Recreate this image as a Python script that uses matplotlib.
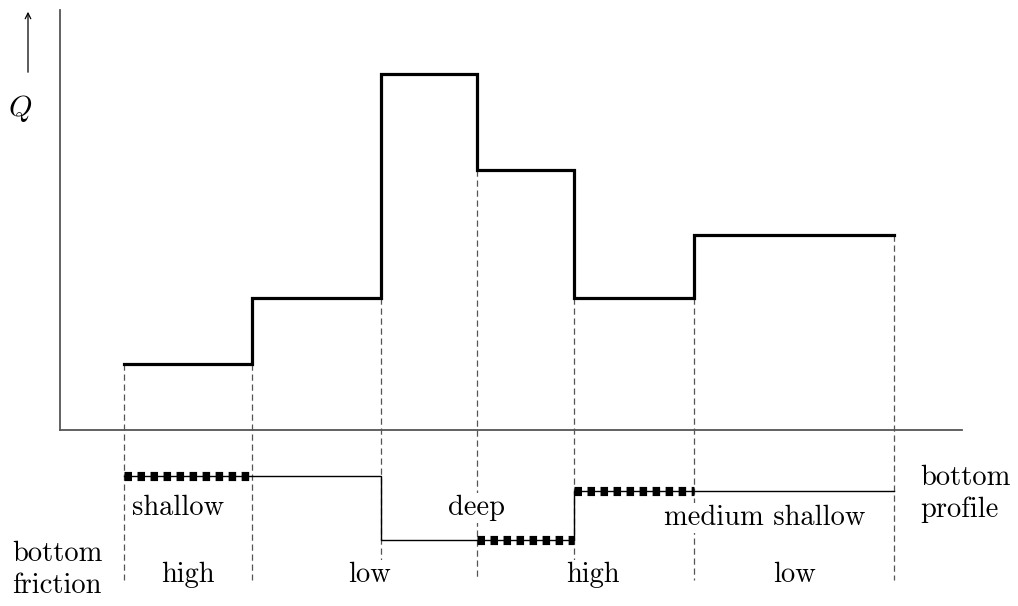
import matplotlib.pyplot as plt
import numpy as np

plt.rcParams['font.family'] = 'serif'
plt.rcParams['font.serif'] = ['cmr10', 'DejaVu Serif']
plt.rcParams['mathtext.fontset'] = 'cm'

# section boundaries along the channel and discharge Q per section
edges = [124, 252, 381, 477, 574, 694, 894]
q_vals = [66, 132, 356, 260, 132, 195]

# bottom profile (depth below axis) per profile segment
prof_x = [124, 381, 574, 894]
prof_y = [-46, -110, -61]
# stretches with high bottom friction (hatched)
rough = [(124, 252), (477, 574), (574, 694)]

profile_labels = ['shallow', 'deep', 'medium shallow']
profile_pos = [(132, -78), (477, -78), (765, -88)]
friction_labels = ['high', 'low', 'high', 'low']
friction_pos = [188, 370, 593, 795]

fig = plt.figure(figsize=(10.18, 6.06), dpi=100)
ax = fig.add_axes([0, 0, 1, 1])
ax.set_xlim(0, 1018)
ax.set_ylim(-176, 430)
ax.axis('off')

fs = 20.5
gray = '#555555'

# axes
ax.plot([60, 60], [0, 420], color=gray, lw=1.3)
ax.plot([60, 962], [0, 0], color=gray, lw=1.3)
ax.annotate('', xy=(28, 421), xytext=(28, 355),
            arrowprops=dict(arrowstyle='->', lw=0.9, color='black'))
ax.text(20, 322, r'$Q$', fontsize=fs + 1, ha='center', va='center')

# dashed section separators
tops = [q_vals[0]] + [min(q_vals[i], q_vals[i + 1]) for i in range(len(q_vals) - 1)] + [q_vals[-1]]
for x, t in zip(edges, tops):
    ax.plot([x, x], [t, -150], color=gray, lw=0.9, ls=(0, (5, 3)), zorder=1)

# stepped Q line
xs, ys = [], []
for i, q in enumerate(q_vals):
    xs += [edges[i], edges[i + 1]]
    ys += [q, q]
ax.plot(xs, ys, color='black', lw=2.3, solid_joinstyle='miter', zorder=3)

# bottom profile
px, py = [], []
for i, d in enumerate(prof_y):
    px += [prof_x[i], prof_x[i + 1]]
    py += [d, d]
ax.plot(px, py, color='black', lw=1.0, zorder=3)

for a, b in rough:
    d = np.interp((a + b) / 2, [124, 381, 381.01, 574, 574.01, 894],
                  [-46, -46, -110, -110, -61, -61])
    ax.plot([a, b], [d, d], color='black', lw=6.6, ls=(0, (0.82, 0.6)),
            dash_capstyle='butt', zorder=4)

bb = dict(facecolor='white', edgecolor='none', pad=1)
for lab, (x, y) in zip(profile_labels, profile_pos):
    ha = 'left' if lab == 'shallow' else 'center'
    ax.text(x, y, lab, fontsize=fs, ha=ha, va='center', bbox=bb, zorder=5)
for lab, x in zip(friction_labels, friction_pos):
    ax.text(x, -145, lab, fontsize=fs, ha='center', va='center', bbox=bb, zorder=5)

ax.text(920, -64, 'bottom\nprofile', fontsize=fs, ha='left', va='center', linespacing=1.25)
ax.text(12, -140, 'bottom\nfriction', fontsize=fs, ha='left', va='center', linespacing=1.3)

fig.savefig('out.png', dpi=100)
